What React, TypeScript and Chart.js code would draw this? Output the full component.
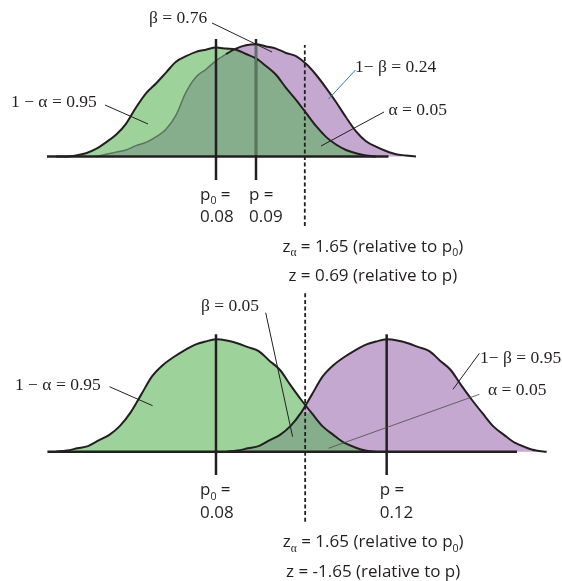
import { useEffect, useRef } from 'react';
import { Chart, registerables } from 'chart.js';

Chart.register(...registerables);

// ---- upper panel: sample proportions and relative curve heights ----
const topX = [
  0.04, 0.0425, 0.045, 0.0475, 0.05, 0.0525, 0.055, 0.0575, 0.06, 0.0625,
  0.065, 0.0675, 0.07, 0.0725, 0.075, 0.0775, 0.08, 0.0825, 0.085, 0.0875,
  0.09, 0.0925, 0.095, 0.0975, 0.1, 0.1025, 0.105, 0.1075, 0.11, 0.1125,
  0.115, 0.1175, 0.12, 0.1225, 0.125, 0.1275, 0.13,
];
const topNull = [
  0, 0, 0.01, 0.03, 0.07, 0.13, 0.2, 0.3, 0.45, 0.58,
  0.67, 0.77, 0.87, 0.92, 0.96, 0.98, 1.0, 0.99, 0.98, 0.94,
  0.9, 0.83, 0.75, 0.63, 0.52, 0.4, 0.28, 0.18, 0.11, 0.06,
  0.03, 0.01, 0, null, null, null, null,
];
const topAlt = [
  null, null, null, null, 0, 0.02, 0.04, 0.06, 0.1, 0.13,
  0.18, 0.25, 0.38, 0.59, 0.73, 0.8, 0.88, 0.94, 0.99, 1.02,
  1.03, 1.01, 0.99, 0.95, 0.92, 0.85, 0.75, 0.63, 0.5, 0.36,
  0.23, 0.14, 0.09, 0.05, 0.02, 0.01, 0,
];
const topP0 = 0.08;
const topP = 0.09;
const topCritical = 0.1022;
const topZ = ['1.65', '0.69'];
const topTexts = ['β = 0.76', '1− β = 0.24', '1 − α = 0.95', 'α = 0.05'];

// ---- lower panel ----
const bottomX = [
  0.0425, 0.045, 0.0475, 0.05, 0.0525, 0.055, 0.0575, 0.06, 0.0625, 0.065,
  0.0675, 0.07, 0.0725, 0.075, 0.0775, 0.08, 0.0825, 0.085, 0.0875, 0.09,
  0.0925, 0.095, 0.0975, 0.1, 0.1025, 0.105, 0.1075, 0.11, 0.1125, 0.115,
  0.1175, 0.12, 0.1225, 0.125, 0.1275, 0.13, 0.1325, 0.135, 0.1375, 0.14,
  0.1425, 0.145, 0.1475, 0.15, 0.1525, 0.155, 0.1575, 0.16,
];
const bottomNull = [
  0, 0.01, 0.03, 0.05, 0.1, 0.15, 0.23, 0.35, 0.51, 0.67,
  0.77, 0.84, 0.9, 0.95, 0.98, 1.0, 0.99, 0.965, 0.93, 0.895,
  0.81, 0.727, 0.59, 0.46, 0.34, 0.225, 0.15, 0.08, 0.04, 0.01,
  0, null, null, null, null, null, null, null, null, null,
  null, null, null, null, null, null, null, null,
];
const bottomAlt = [
  null, null, null, null, null, null, null, null, null, null,
  null, null, null, null, null, null, 0, 0.01, 0.03, 0.05,
  0.1, 0.15, 0.23, 0.35, 0.51, 0.67, 0.77, 0.84, 0.9, 0.95,
  0.98, 1.0, 0.99, 0.965, 0.93, 0.895, 0.81, 0.727, 0.59, 0.46,
  0.34, 0.225, 0.15, 0.08, 0.04, 0.01, 0, null,
];
const bottomP0 = 0.08;
const bottomP = 0.12;
const bottomCritical = 0.1009;
const bottomZ = ['1.65', '-1.65'];
const bottomTexts = ['β = 0.05', '1− β = 0.95', '1 − α = 0.95', 'α = 0.05'];

const GREEN = '#9dd39b';
const PURPLE = '#c4a8d0';
const OVERLAP = '#87ae8c';
const INK = '#231f20';
const MUTED = '#587560';
const TEAL = '#2f7f99';

const SERIF = '17.5px "Liberation Serif", "DejaVu Serif", serif';
const SANS = '17px "Open Sans", "Noto Sans", sans-serif';
const SANS_SUB = '10.5px "Open Sans", "Noto Sans", sans-serif';
const SERIF_SUB = '11.5px "Liberation Serif", serif';

type Run = { t: string; sub?: boolean; serif?: boolean };
type Note = { text: string; at: [number, number] };
type Leader = { from: [number, number]; to: [number, number]; color?: string; width?: number };

type PanelCfg = {
  xs: number[];
  nullH: (number | null)[];
  altH: (number | null)[];
  xRange: [number, number];
  yRange: [number, number];
  p0: number;
  p: number;
  critical: number;
  z: string[];
  axis: [number, number];
  refSpan: [number, number];
  dashSpan: [number, number];
  notes: Note[];
  leaders: Leader[];
  muteAlt: boolean;
};

const fmt = (v: number) => v.toFixed(2);

function drawRuns(ctx: CanvasRenderingContext2D, runs: Run[], x: number, y: number, align: 'left' | 'center') {
  const fontOf = (r: Run) => (r.sub ? (r.serif ? SERIF_SUB : SANS_SUB) : SANS);
  let total = 0;
  for (const r of runs) {
    ctx.font = fontOf(r);
    total += ctx.measureText(r.t).width;
  }
  let cx = align === 'center' ? x - total / 2 : x;
  ctx.textAlign = 'left';
  ctx.textBaseline = 'alphabetic';
  for (const r of runs) {
    ctx.font = fontOf(r);
    ctx.fillText(r.t, cx, r.sub ? y + 4.5 : y);
    cx += ctx.measureText(r.t).width;
  }
}

const topCfg: PanelCfg = {
  xs: topX,
  nullH: topNull,
  altH: topAlt,
  xRange: [0.026, 0.1665],
  yRange: [-1.2248, 1.4358],
  p0: topP0,
  p: topP,
  critical: topCritical,
  z: topZ,
  axis: [0.03775, 0.12313],
  refSpan: [-0.2156, 1.078],
  dashSpan: [-0.6376, 1.023],
  notes: [
    { text: topTexts[0], at: [0.06325, 1.2706] },
    { text: topTexts[1], at: [0.11475, 0.8211] },
    { text: topTexts[2], at: [0.02875, 0.5] },
    { text: topTexts[3], at: [0.123125, 0.4266] },
  ],
  leaders: [
    { from: [0.079, 1.2248], to: [0.094, 0.9587] },
    { from: [0.114875, 0.7936], to: [0.108125, 0.5275], color: TEAL },
    { from: [0.05225, 0.4725], to: [0.063, 0.2982] },
    { from: [0.122, 0.4083], to: [0.10625, 0.0963] },
  ],
  muteAlt: true,
};

const bottomCfg: PanelCfg = {
  xs: bottomX,
  nullH: bottomNull,
  altH: bottomAlt,
  xRange: [0.02938, 0.16109],
  yRange: [-1.1504, 1.4386],
  p0: bottomP0,
  p: bottomP,
  critical: bottomCritical,
  z: bottomZ,
  axis: [0.04049, 0.15054],
  refSpan: [-0.2073, 1.0445],
  dashSpan: [-0.6228, 1.412],
  notes: [
    { text: bottomTexts[0], at: [0.07648, 1.2963] },
    { text: bottomTexts[1], at: [0.14187, 0.831] },
    { text: bottomTexts[2], at: [0.03289, 0.5872] },
    { text: bottomTexts[3], at: [0.14375, 0.549] },
  ],
  leaders: [
    { from: [0.09165, 1.2367], to: [0.09795, 0.1335] },
    { from: [0.14173, 0.8754], to: [0.13554, 0.5552] },
    { from: [0.05504, 0.5783], to: [0.06514, 0.4093] },
    { from: [0.14173, 0.5107], to: [0.10637, 0.0302], color: '#4a4a4a', width: 0.8 },
  ],
  muteAlt: false,
};

function annotations(cfg: PanelCfg) {
  return {
    id: 'panelNotes',
    afterDatasetsDraw(chart: Chart) {
      const { ctx } = chart;
      const xs = chart.scales.x;
      const ys = chart.scales.y;
      const X = (v: number) => xs.getPixelForValue(v);
      const Y = (v: number) => ys.getPixelForValue(v);
      const seg = (x1: number, y1: number, x2: number, y2: number) => {
        ctx.beginPath();
        ctx.moveTo(x1, y1);
        ctx.lineTo(x2, y2);
        ctx.stroke();
      };
      ctx.save();
      ctx.lineCap = 'butt';

      // horizontal axis
      ctx.strokeStyle = INK;
      ctx.lineWidth = 2.5;
      seg(X(cfg.axis[0]), Y(0), X(cfg.axis[1]), Y(0));

      // reference lines at p0 and p
      for (const v of [cfg.p0, cfg.p]) {
        seg(X(v), Y(cfg.refSpan[0]), X(v), Y(cfg.refSpan[1]));
      }
      if (cfg.muteAlt) {
        const i = cfg.xs.indexOf(cfg.p);
        const h = cfg.altH[i] ?? 0;
        ctx.strokeStyle = MUTED;
        ctx.lineWidth = 2;
        seg(X(cfg.p), Y(0) - 1.5, X(cfg.p), Y(h) + 1);
      }

      // critical value
      ctx.strokeStyle = INK;
      ctx.lineWidth = 1.8;
      ctx.setLineDash([4, 2.6]);
      seg(X(cfg.critical), Y(cfg.dashSpan[0]), X(cfg.critical), Y(cfg.dashSpan[1]));
      ctx.setLineDash([]);

      // leader lines
      for (const l of cfg.leaders) {
        ctx.strokeStyle = l.color ?? INK;
        ctx.lineWidth = l.width ?? 1;
        seg(X(l.from[0]), Y(l.from[1]), X(l.to[0]), Y(l.to[1]));
      }

      // serif notes
      ctx.fillStyle = INK;
      ctx.font = SERIF;
      ctx.textAlign = 'left';
      ctx.textBaseline = 'middle';
      for (const n of cfg.notes) {
        ctx.fillText(n.text, X(n.at[0]), Y(n.at[1]));
      }

      // proportion labels under the axis
      const base = Y(0);
      drawRuns(ctx, [{ t: 'p' }, { t: '0', sub: true }, { t: ' =' }], X(cfg.p0) - 16, base + 43.5, 'left');
      drawRuns(ctx, [{ t: fmt(cfg.p0) }], X(cfg.p0) - 16, base + 66, 'left');
      drawRuns(ctx, [{ t: 'p =' }], X(cfg.p) - 7, base + 43.5, 'left');
      drawRuns(ctx, [{ t: fmt(cfg.p) }], X(cfg.p) - 7, base + 66, 'left');

      // z statistics
      const zx = X(cfg.critical) + 68;
      drawRuns(
        ctx,
        [{ t: 'z' }, { t: 'α', sub: true, serif: true }, { t: ` = ${cfg.z[0]} (relative to p` }, { t: '0', sub: true }, { t: ')' }],
        zx,
        base + 95.5,
        'center',
      );
      drawRuns(ctx, [{ t: `z = ${cfg.z[1]} (relative to p)` }], zx, base + 125, 'center');
      ctx.restore();
    },
  };
}

function Panel({ cfg, top, height }: { cfg: PanelCfg; top: number; height: number }) {
  const ref = useRef<HTMLCanvasElement>(null);
  useEffect(() => {
    const canvas = ref.current;
    if (!canvas) return;
    const { xs, nullH, altH } = cfg;
    const pts = (arr: (number | null)[]) => xs.map((x, i) => ({ x, y: arr[i] }));
    const area = (arr: (number | null)[]) => xs.map((x, i) => ({ x, y: arr[i] ?? 0 }));
    const shared = xs.map((x, i) => ({ x, y: Math.min(nullH[i] ?? 0, altH[i] ?? 0) }));
    const under = (i: number) => (altH[i] ?? 0) <= (nullH[i] ?? 0);
    const fillSet = (data: any, color: string, order: number) => ({
      data,
      backgroundColor: color,
      borderColor: 'transparent',
      borderWidth: 0,
      fill: 'origin',
      order,
    });
    const chart = new Chart(canvas, {
      type: 'line',
      data: {
        datasets: [
          fillSet(area(nullH), GREEN, 5),
          fillSet(area(altH), PURPLE, 4),
          fillSet(shared, OVERLAP, 3),
          {
            data: pts(altH),
            borderColor: INK,
            borderWidth: 2,
            fill: false,
            order: 2,
            segment: cfg.muteAlt
              ? {
                  borderColor: (c: any) => (under(c.p0DataIndex) && under(c.p1DataIndex) ? MUTED : INK),
                  borderWidth: (c: any) => (under(c.p0DataIndex) && under(c.p1DataIndex) ? 1.5 : 2),
                }
              : undefined,
          },
          { data: pts(nullH), borderColor: INK, borderWidth: 2, fill: false, order: 1 },
        ] as any,
      },
      options: {
        responsive: false,
        animation: false,
        events: [],
        layout: { padding: 0 },
        elements: {
          point: { radius: 0 },
          line: { cubicInterpolationMode: 'monotone', borderJoinStyle: 'round' },
        },
        scales: {
          x: { type: 'linear', min: cfg.xRange[0], max: cfg.xRange[1], display: false },
          y: { type: 'linear', min: cfg.yRange[0], max: cfg.yRange[1], display: false },
        },
        plugins: { legend: { display: false }, tooltip: { enabled: false } },
      },
      plugins: [annotations(cfg)],
    });
    return () => chart.destroy();
  }, [cfg]);
  return (
    <canvas
      ref={ref}
      width={562}
      height={height}
      style={{ position: 'absolute', left: 0, top, width: 562, height, display: 'block' }}
    />
  );
}

export default function App() {
  return (
    <div style={{ position: 'fixed', left: 0, top: 0, width: 562, height: 581, background: '#fff' }}>
      <Panel cfg={topCfg} top={0} height={290} />
      <Panel cfg={bottomCfg} top={290} height={291} />
    </div>
  );
}
